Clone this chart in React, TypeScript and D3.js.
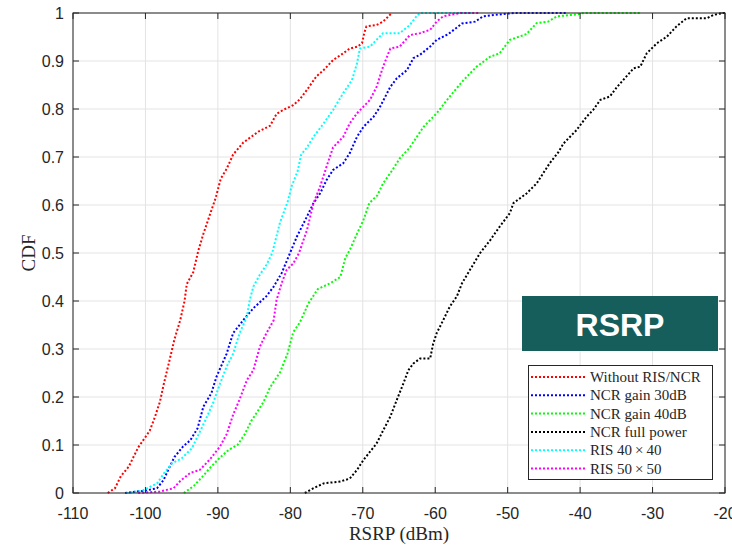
import React from "react";
import * as d3 from "d3";

type Pt = [number, number];

const withoutRisNcr: Pt[] = [[-105.2,0],[-104.2,0.01],[-103.4,0.035],[-102.3,0.055],[-101.0,0.095],[-100.3,0.11],[-99.4,0.13],[-98.7,0.158],[-98.0,0.19],[-97.5,0.225],[-96.7,0.275],[-96.0,0.32],[-95.2,0.36],[-94.6,0.40],[-94.3,0.435],[-93.4,0.46],[-92.7,0.505],[-92.0,0.54],[-91.1,0.58],[-90.3,0.615],[-89.6,0.655],[-88.8,0.675],[-87.9,0.705],[-86.5,0.73],[-84.4,0.753],[-82.8,0.765],[-81.9,0.79],[-81.0,0.798],[-79.6,0.808],[-78.7,0.82],[-77.7,0.84],[-76.4,0.868],[-75.4,0.881],[-74.1,0.902],[-72.7,0.916],[-71.8,0.926],[-70.7,0.93],[-70.1,0.937],[-69.8,0.958],[-69.5,0.972],[-68.1,0.975],[-67.2,0.982],[-66.0,1.0]];

const ncrGain30: Pt[] = [[-102.8,0],[-100,0.005],[-98.4,0.01],[-97.5,0.027],[-96.8,0.05],[-96.0,0.075],[-94.8,0.097],[-93.8,0.11],[-92.8,0.135],[-92.0,0.18],[-90.9,0.208],[-90.2,0.242],[-88.8,0.29],[-87.9,0.333],[-86.5,0.36],[-85.1,0.385],[-83.3,0.41],[-82.3,0.43],[-81.2,0.458],[-80.4,0.487],[-79.1,0.534],[-77.7,0.576],[-76.8,0.604],[-75.9,0.624],[-75.0,0.652],[-74.1,0.673],[-72.7,0.687],[-71.8,0.708],[-70.8,0.742],[-69.9,0.763],[-68.5,0.784],[-67.6,0.805],[-66.2,0.846],[-65.3,0.864],[-63.9,0.881],[-63.0,0.906],[-62.1,0.913],[-60.7,0.93],[-59.8,0.944],[-58.2,0.956],[-56.3,0.978],[-54.5,0.982],[-53.4,0.993],[-50.6,0.998],[-49,1.0],[-41.8,1.0]];

const ncrGain40: Pt[] = [[-94.7,0],[-93.3,0.015],[-92.2,0.033],[-91.1,0.052],[-89.7,0.074],[-88.5,0.09],[-87.3,0.1],[-86.3,0.122],[-85.4,0.15],[-84.6,0.168],[-83.7,0.19],[-82.8,0.22],[-81.4,0.252],[-80.4,0.29],[-79.6,0.335],[-78.7,0.355],[-77.5,0.395],[-76.2,0.425],[-74.5,0.437],[-73.1,0.45],[-72.4,0.49],[-71.8,0.506],[-70.8,0.54],[-69.9,0.569],[-69.1,0.604],[-68.0,0.62],[-67.2,0.645],[-65.9,0.673],[-64.9,0.697],[-63.6,0.718],[-61.6,0.763],[-59.8,0.791],[-58.0,0.826],[-56.1,0.86],[-54.3,0.888],[-52.4,0.909],[-51.1,0.916],[-49.7,0.944],[-47.4,0.956],[-46.0,0.979],[-44.4,0.982],[-43.2,0.993],[-40.5,0.997],[-39.5,1.0],[-31.7,1.0]];

const ncrFullPower: Pt[] = [[-78.0,0],[-76.8,0.01],[-75.4,0.02],[-73.1,0.024],[-71.8,0.03],[-70.8,0.048],[-69.9,0.069],[-69.0,0.086],[-68.1,0.103],[-67.2,0.13],[-66.2,0.159],[-65.3,0.194],[-64.4,0.228],[-63.7,0.256],[-63.0,0.27],[-62.1,0.28],[-60.7,0.28],[-60.3,0.31],[-59.8,0.333],[-58.9,0.36],[-58.0,0.388],[-57.0,0.41],[-56.3,0.437],[-55.2,0.465],[-53.8,0.5],[-52.4,0.527],[-51.1,0.555],[-49.7,0.583],[-49.2,0.604],[-47.4,0.624],[-46.0,0.645],[-45.1,0.666],[-44.2,0.687],[-43.0,0.71],[-42.3,0.728],[-40.5,0.756],[-39.1,0.784],[-38.2,0.798],[-37.2,0.819],[-35.9,0.826],[-34.9,0.846],[-33.6,0.868],[-32.6,0.885],[-31.7,0.888],[-30.8,0.916],[-29.4,0.937],[-28.0,0.951],[-26.7,0.972],[-25.3,0.989],[-22.5,0.989],[-21.6,0.996],[-20.2,1.0],[-20,1.0]];

const ris40: Pt[] = [[-102.6,0],[-100.4,0.005],[-98.4,0.02],[-97.3,0.044],[-96.3,0.062],[-95.0,0.072],[-93.6,0.093],[-92.5,0.127],[-91.5,0.159],[-90.6,0.19],[-89.7,0.228],[-88.8,0.263],[-87.9,0.29],[-87.0,0.333],[-86.0,0.367],[-85.6,0.402],[-85.1,0.43],[-84.2,0.455],[-83.3,0.475],[-82.5,0.5],[-81.4,0.565],[-80.4,0.605],[-79.8,0.64],[-79.0,0.67],[-78.5,0.705],[-77.7,0.72],[-76.8,0.742],[-75.4,0.77],[-74.1,0.798],[-72.7,0.833],[-71.5,0.86],[-70.8,0.895],[-70.4,0.926],[-69.0,0.93],[-68.1,0.944],[-67.2,0.958],[-64.9,0.958],[-63.5,0.975],[-62.6,0.993],[-62.1,1.0],[-55,1.0]];

const ris50: Pt[] = [[-101.0,0],[-98.0,0.003],[-96.1,0.01],[-95.2,0.025],[-93.8,0.042],[-92.5,0.048],[-91.1,0.07],[-89.7,0.097],[-88.8,0.122],[-87.9,0.163],[-87.0,0.195],[-86.0,0.235],[-85.1,0.256],[-84.2,0.305],[-83.3,0.333],[-82.3,0.36],[-81.9,0.402],[-81.2,0.437],[-80.5,0.465],[-79.6,0.478],[-78.8,0.5],[-77.7,0.548],[-76.8,0.604],[-75.9,0.638],[-75.0,0.68],[-74.1,0.72],[-72.7,0.742],[-71.8,0.77],[-70.8,0.791],[-69.9,0.805],[-69.0,0.819],[-68.1,0.846],[-67.2,0.888],[-66.2,0.926],[-64.9,0.93],[-63.5,0.954],[-62.1,0.958],[-60.7,0.965],[-59.8,0.982],[-58.9,0.993],[-57.9,0.996],[-56.5,1.0],[-53.8,1.0]];

const seriesNames = ["Without RIS/NCR", "NCR gain 30dB", "NCR gain 40dB", "NCR full power", "RIS 40\u2009×\u200940", "RIS 50\u2009×\u200950"];
const seriesData = [withoutRisNcr, ncrGain30, ncrGain40, ncrFullPower, ris40, ris50];
const seriesColors = ["#ff0000", "#0000ff", "#00ff00", "#000000", "#00ffff", "#ff00ff"];

const xTicks = [-110, -100, -90, -80, -70, -60, -50, -40, -30, -20];
const yTicks = [0, 0.1, 0.2, 0.3, 0.4, 0.5, 0.6, 0.7, 0.8, 0.9, 1];

export default function App() {
  const W = 732, H = 546;
  const L = 73, R = 725, T = 13, B = 493;
  const x = d3.scaleLinear().domain([-110, -20]).range([L, R]);
  const y = d3.scaleLinear().domain([0, 1]).range([B, T]);
  const line = d3.line<Pt>().x(d => x(d[0])).y(d => y(d[1]));
  const axisColor = "#262626";
  const tickLen = 6;
  const fmtY = (v: number) => (v === 0 || v === 1 ? String(v) : v.toFixed(1));

  return (
    <svg width={W} height={H} style={{ position: "absolute", left: 0, top: 0, background: "#fff" }}>
      <rect x={0} y={0} width={W} height={H} fill="#fff" />
      {/* grid */}
      <g stroke="#e3e3e3" strokeWidth={1}>
        {xTicks.map(t => <line key={"gx" + t} x1={x(t)} x2={x(t)} y1={T} y2={B} />)}
        {yTicks.map(t => <line key={"gy" + t} x1={L} x2={R} y1={y(t)} y2={y(t)} />)}
      </g>
      {/* curves */}
      <g fill="none" strokeWidth={2} strokeDasharray="2 2">
        {seriesData.map((d, i) => (
          <path key={i} d={line(d) || ""} stroke={seriesColors[i]} />
        ))}
      </g>
      {/* frame and ticks */}
      <g stroke={axisColor} strokeWidth={1} fill="none">
        <rect x={L} y={T} width={R - L} height={B - T} />
        {xTicks.map(t => (
          <g key={"tx" + t}>
            <line x1={x(t)} x2={x(t)} y1={B} y2={B - tickLen} />
            <line x1={x(t)} x2={x(t)} y1={T} y2={T + tickLen} />
          </g>
        ))}
        {yTicks.map(t => (
          <g key={"ty" + t}>
            <line x1={L} x2={L + tickLen} y1={y(t)} y2={y(t)} />
            <line x1={R} x2={R - tickLen} y1={y(t)} y2={y(t)} />
          </g>
        ))}
      </g>
      {/* tick labels */}
      <g fontFamily="'Liberation Sans', Arial, sans-serif" fontSize={16} fill={axisColor}>
        {xTicks.map(t => (
          <text key={"lx" + t} x={x(t)} y={519} textAnchor="middle">{String(t)}</text>
        ))}
        {yTicks.map(t => (
          <text key={"ly" + t} x={L - 9} y={y(t) + 5.5} textAnchor="end">{fmtY(t)}</text>
        ))}
      </g>
      {/* axis titles */}
      <text x={(L + R) / 2} y={540} textAnchor="middle" fontFamily="'Liberation Serif', 'Times New Roman', serif" fontSize={19} fill={axisColor}>RSRP (dBm)</text>
      <text transform={`translate(35, ${(T + B) / 2}) rotate(-90)`} textAnchor="middle" fontFamily="'Liberation Serif', 'Times New Roman', serif" fontSize={19} fill={axisColor}>CDF</text>
      {/* RSRP badge */}
      <rect x={522} y={296} width={196} height={55} fill="#165e5b" />
      <text x={620} y={336} textAnchor="middle" fontFamily="'Liberation Sans', Arial, sans-serif" fontWeight="bold" fontSize={32} fill="#ffffff">RSRP</text>
      {/* legend */}
      <rect x={528.5} y={365.5} width={184} height={114} fill="#fff" stroke={axisColor} strokeWidth={1} />
      {seriesNames.map((n, i) => {
        const yy = 377 + i * 18.3;
        return (
          <g key={"lg" + i}>
            <line x1={531} x2={586} y1={yy} y2={yy} stroke={seriesColors[i]} strokeWidth={2} strokeDasharray="2 2" />
            <text x={590} y={yy + 5} fontFamily="'Liberation Serif', 'Times New Roman', serif" fontSize={15} fill={axisColor}>{n}</text>
          </g>
        );
      })}
    </svg>
  );
}
